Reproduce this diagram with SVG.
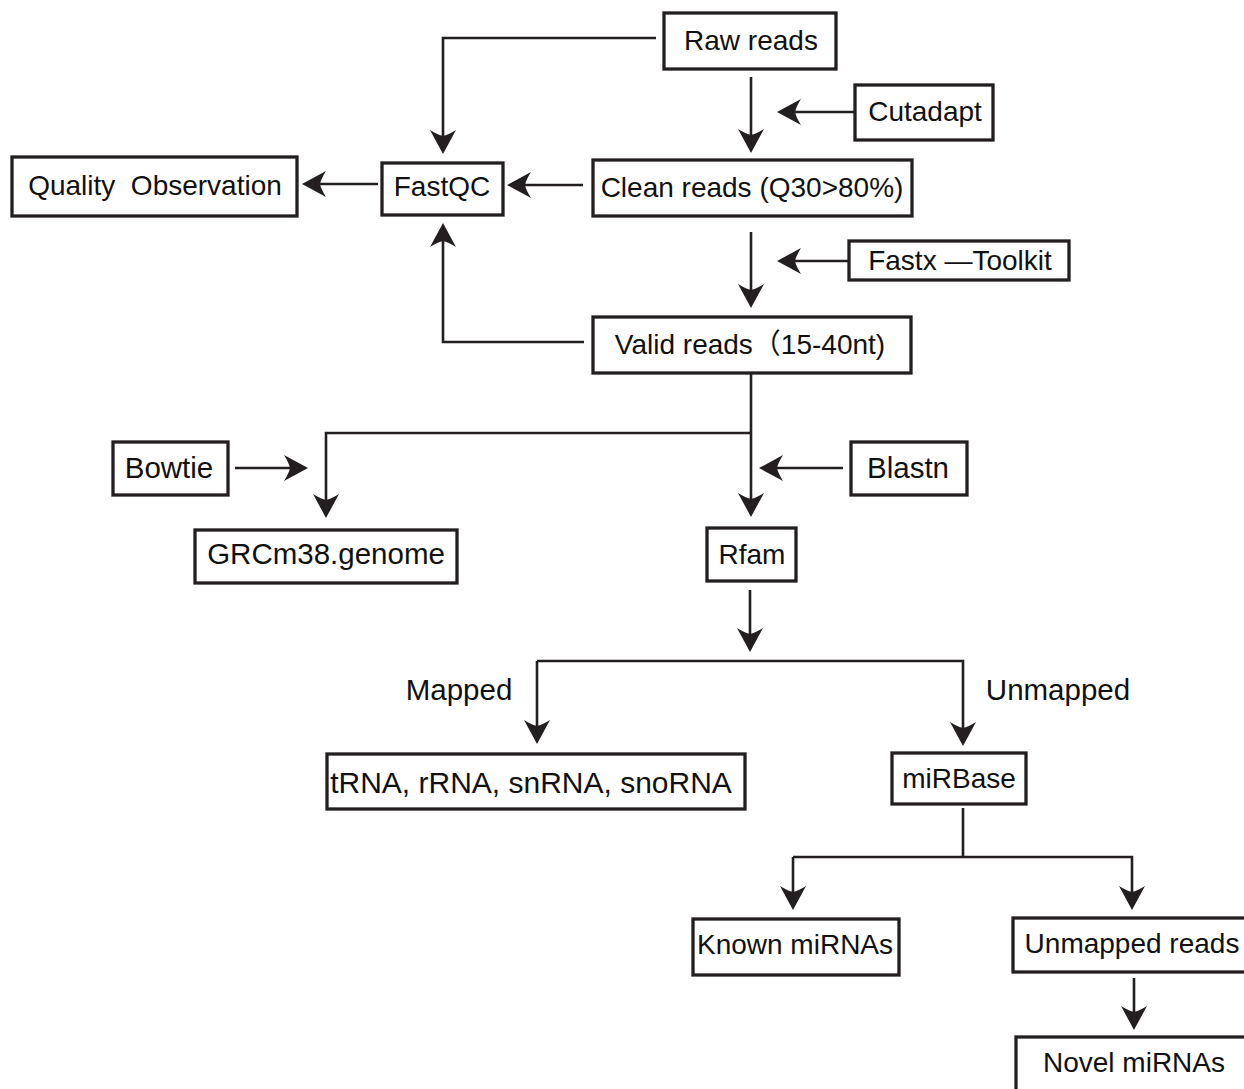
<svg xmlns="http://www.w3.org/2000/svg" width="1244" height="1089" viewBox="0 0 1244 1089">
<style>
.box{fill:#fff;stroke:#231f20;stroke-width:3.3}
.t{font-family:"Liberation Sans","Noto Sans CJK SC",Arial,sans-serif;font-size:28px;fill:#111;text-anchor:middle}
.b{font-size:29.5px}
.c{fill:none;stroke:#231f20;stroke-width:2.6;marker-end:url(#ah)}
.l{fill:none;stroke:#231f20;stroke-width:2.6}
</style>
<defs>
<marker id="ah" markerUnits="userSpaceOnUse" viewBox="-26 -14 28 28" refX="-12" refY="0" markerWidth="28" markerHeight="28" orient="auto">
<path d="M0,0 L-24,-13 Q-19,-5 -18,0 Q-19,5 -24,13 Z" fill="#231f20"/>
</marker>
</defs>
<rect width="1244" height="1089" fill="#fff"/>
<g id="connectors">
<path class="c" d="M656,38 H443 V142"/>
<path class="c" d="M751,77 V141"/>
<path class="c" d="M855,112 H789"/>
<path class="c" d="M583,185 H519"/>
<path class="c" d="M378,184 H314"/>
<path class="c" d="M584,342 H443 V235"/>
<path class="c" d="M751,232 V296"/>
<path class="c" d="M849,261 H789"/>
<path class="c" d="M751,374 V505"/>
<path class="c" d="M751,433 H326 V506"/>
<path class="c" d="M235,468 H296"/>
<path class="c" d="M843,468 H771"/>
<path class="c" d="M750,590 V640"/>
<path class="c" d="M537,661 V732"/>
<path class="c" d="M537,661 H963 V734"/>
<path class="l" d="M963,808 V857"/>
<path class="c" d="M793,857 V898"/>
<path class="c" d="M793,857 H1132 V898"/>
<path class="c" d="M1134,978 V1018"/>
</g>
<g id="raw-reads"><rect class="box" x="664" y="13" width="172" height="56"/><text class="t" x="751" y="50">Raw reads</text></g>
<g id="cutadapt"><rect class="box" x="855" y="85" width="138" height="55"/><text class="t" x="925" y="121">Cutadapt</text></g>
<g id="clean-reads"><rect class="box" x="593" y="160" width="319" height="56"/><text class="t" x="752" y="197">Clean reads (Q30&gt;80%)</text></g>
<g id="fastqc"><rect class="box" x="382" y="163" width="121" height="52"/><text class="t" x="442" y="196">FastQC</text></g>
<g id="quality"><rect class="box" x="12" y="157" width="285" height="59"/><text class="t" x="155" y="195" xml:space="preserve">Quality  Observation</text></g>
<g id="fastx"><rect class="box" x="849" y="241" width="220" height="39"/><text class="t" x="960" y="270">Fastx —Toolkit</text></g>
<g id="valid-reads"><rect class="box" x="593" y="317" width="318" height="56"/><text class="t" x="750" y="354">Valid reads（15-40nt)</text></g>
<g id="bowtie"><rect class="box" x="113" y="442" width="115" height="53"/><text class="t b" x="169" y="478">Bowtie</text></g>
<g id="grcm38"><rect class="box" x="195" y="530" width="262" height="53"/><text class="t b" x="326" y="564">GRCm38.genome</text></g>
<g id="blastn"><rect class="box" x="851" y="442" width="116" height="53"/><text class="t b" x="908" y="478">Blastn</text></g>
<g id="rfam"><rect class="box" x="707" y="528" width="89" height="53"/><text class="t" x="752" y="564">Rfam</text></g>
<g id="labels"><text class="t b" x="459" y="700">Mapped</text><text class="t b" x="1058" y="700">Unmapped</text></g>
<g id="trna"><rect class="box" x="327" y="754" width="418" height="55"/><text class="t" style="font-size:30px" x="531" y="793">tRNA, rRNA, snRNA, snoRNA</text></g>
<g id="mirbase"><rect class="box" x="892" y="753" width="134" height="51"/><text class="t" x="959" y="788">miRBase</text></g>
<g id="known"><rect class="box" x="693" y="919" width="206" height="56"/><text class="t" x="795" y="954">Known miRNAs</text></g>
<g id="unmapped-reads"><rect class="box" x="1013" y="918" width="260" height="54"/><text class="t" x="1132" y="953">Unmapped reads</text></g>
<g id="novel"><rect class="box" x="1016" y="1037" width="260" height="80"/><text class="t" x="1134" y="1072">Novel miRNAs</text></g>
</svg>
